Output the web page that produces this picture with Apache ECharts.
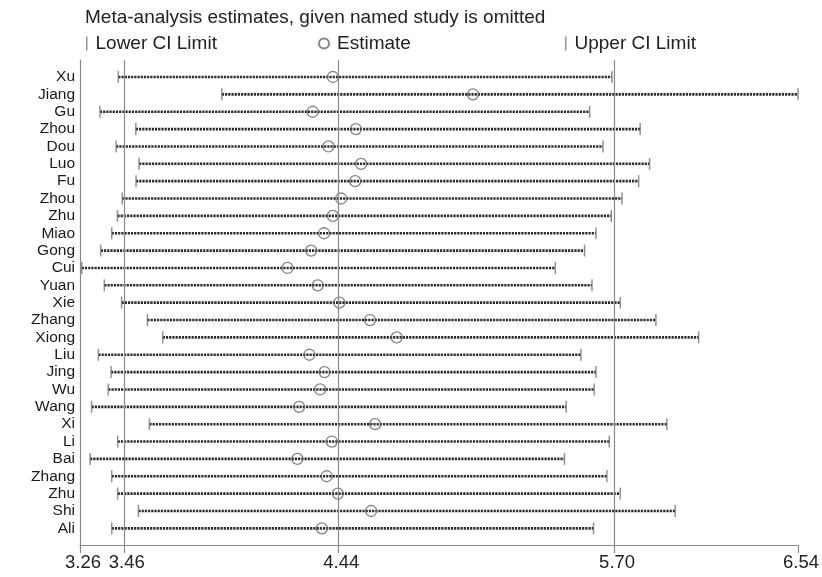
<!DOCTYPE html>
<html>
<head>
<meta charset="utf-8">
<script src="https://cdn.jsdelivr.net/npm/echarts@6.0.0/dist/echarts.min.js"></script>
<style>
  html, body { margin: 0; padding: 0; background: #fff; }
  #chart { width: 822px; height: 577px; }
</style>
</head>
<body>
<div id="chart"></div>
<script>
// study omitted in each row, top to bottom
const studies = ['Xu', 'Jiang', 'Gu', 'Zhou', 'Dou', 'Luo', 'Fu', 'Zhou', 'Zhu', 'Miao', 'Gong', 'Cui', 'Yuan',
  'Xie', 'Zhang', 'Xiong', 'Liu', 'Jing', 'Wu', 'Wang', 'Xi', 'Li', 'Bai', 'Zhang', 'Zhu', 'Shi', 'Ali'];
const lowerCI = [3.435, 3.908, 3.351, 3.515, 3.425, 3.530, 3.516, 3.453, 3.431, 3.405, 3.355, 3.268, 3.371,
  3.450, 3.568, 3.638, 3.344, 3.402, 3.389, 3.313, 3.577, 3.432, 3.306, 3.405, 3.432, 3.527, 3.405];
const estimate = [4.415, 5.055, 4.323, 4.520, 4.395, 4.544, 4.517, 4.453, 4.415, 4.375, 4.316, 4.208, 4.346,
  4.445, 4.585, 4.707, 4.308, 4.377, 4.357, 4.261, 4.608, 4.410, 4.253, 4.387, 4.438, 4.590, 4.365];
const upperCI = [5.690, 6.540, 5.588, 5.819, 5.649, 5.862, 5.812, 5.736, 5.687, 5.617, 5.565, 5.431, 5.599,
  5.728, 5.891, 6.086, 5.548, 5.617, 5.609, 5.481, 5.941, 5.678, 5.473, 5.667, 5.728, 5.979, 5.606];
const xTicks = [3.26, 3.46, 4.44, 5.70, 6.54];
const refLines = [3.46, 4.44, 5.70];

const font = 'Liberation Sans, Arial, Helvetica, sans-serif';
const grey = '#8a8a8a';
const rowIdx = studies.map((s, i) => i);

const chart = echarts.init(document.getElementById('chart'));

const legendBase = {
  top: 29,
  itemGap: 0,
  selectedMode: false,
  textStyle: { fontFamily: font, fontSize: 19, color: '#222', padding: [0, 0, 0, 3] }
};

const option = {
  animation: false,
  title: {
    text: 'Meta-analysis estimates, given named study is omitted',
    left: 80,
    top: 3,
    textStyle: { fontFamily: font, fontSize: 19, fontWeight: 'normal', color: '#222' }
  },
  legend: [
    Object.assign({}, legendBase, { left: 81, data: ['Lower CI Limit'], icon: 'rect', itemWidth: 1.5, itemHeight: 14 }),
    Object.assign({}, legendBase, { left: 313, data: ['Estimate'], icon: 'circle', itemWidth: 10, itemHeight: 10 }),
    Object.assign({}, legendBase, { left: 560, data: ['Upper CI Limit'], icon: 'rect', itemWidth: 1.5, itemHeight: 14 })
  ],
  grid: { left: 80, right: 24, top: 60, bottom: 32 },
  xAxis: {
    type: 'value',
    min: 3.26,
    max: 6.54,
    splitLine: { show: false },
    axisLine: { show: true, onZero: false, lineStyle: { color: grey, width: 1.2 } },
    axisTick: { show: true, customValues: xTicks, length: 8, lineStyle: { color: grey, width: 1.2 } },
    axisLabel: {
      customValues: xTicks,
      margin: 8,
      fontFamily: font,
      fontSize: 18.5,
      color: '#222',
      padding: [0, 0, 0, 6],
      formatter: v => v.toFixed(2)
    }
  },
  yAxis: {
    type: 'value',
    inverse: true,
    min: -0.98,
    max: 26.96,
    splitLine: { show: false },
    axisLine: { show: true, onZero: false, lineStyle: { color: grey, width: 1.2 } },
    axisTick: { show: false },
    axisLabel: {
      customValues: rowIdx,
      margin: 5,
      fontFamily: font,
      fontSize: 15.5,
      color: '#1a1a1a',
      formatter: v => studies[Math.round(v)]
    }
  },
  series: [
    {
      name: 'CI',
      type: 'custom',
      data: rowIdx.map(i => [lowerCI[i], upperCI[i], i]),
      encode: { x: [0, 1], y: 2 },
      renderItem: function (params, api) {
        const a = api.coord([api.value(0), api.value(2)]);
        const b = api.coord([api.value(1), api.value(2)]);
        return {
          type: 'line',
          shape: { x1: a[0], y1: a[1], x2: b[0], y2: b[1] },
          style: { stroke: '#2a2a2a', lineWidth: 2.6, lineDash: [2.2, 1] }
        };
      },
      markLine: {
        silent: true,
        symbol: 'none',
        label: { show: false },
        lineStyle: { color: grey, width: 1.2, type: 'solid' },
        data: refLines.map(v => ({ xAxis: v }))
      },
      z: 2
    },
    {
      name: 'Lower CI Limit',
      type: 'scatter',
      data: rowIdx.map(i => [lowerCI[i], i]),
      symbol: 'rect',
      symbolSize: [1.5, 12],
      itemStyle: { color: '#777' },
      z: 3
    },
    {
      name: 'Estimate',
      type: 'scatter',
      data: rowIdx.map(i => [estimate[i], i]),
      symbol: 'circle',
      symbolSize: 11,
      itemStyle: { color: 'rgba(255,255,255,0)', borderColor: '#666', borderWidth: 1.3 },
      z: 4
    },
    {
      name: 'Upper CI Limit',
      type: 'scatter',
      data: rowIdx.map(i => [upperCI[i], i]),
      symbol: 'rect',
      symbolSize: [1.5, 12],
      itemStyle: { color: '#777' },
      z: 3
    }
  ]
};

chart.setOption(option);

window.addEventListener('resize', function () {
  chart.resize();
});
</script>
</body>
</html>
